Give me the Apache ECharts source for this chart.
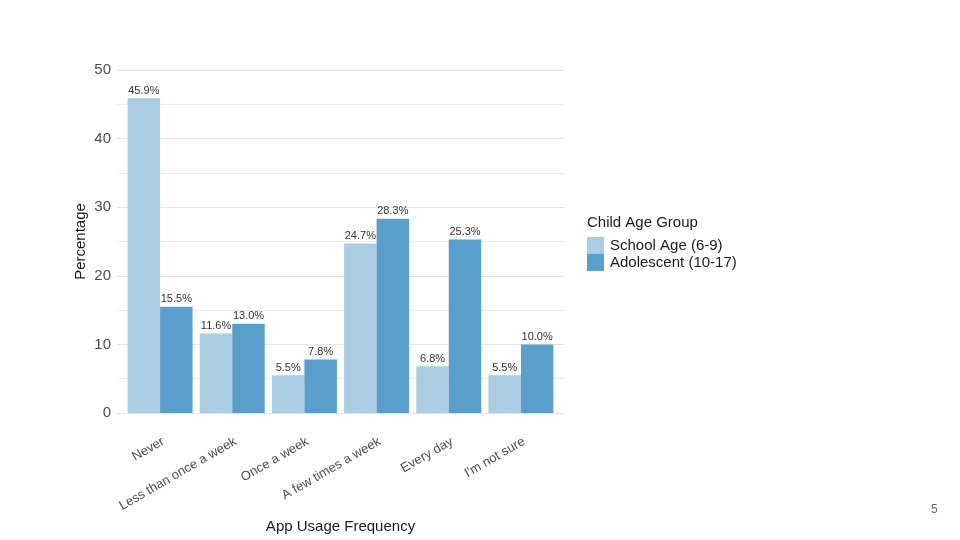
<!DOCTYPE html>
<html><head><meta charset="utf-8">
<script src="https://cdn.jsdelivr.net/npm/echarts@6/dist/echarts.min.js"></script>
<style>html,body{margin:0;padding:0;background:#fff}#c{width:960px;height:540px}</style>
</head><body><div id="c"></div>
<script>
const categories = ["Never","Less than once a week","Once a week","A few times a week","Every day","I'm not sure"];
const schoolAge = [45.9, 11.6, 5.5, 24.7, 6.8, 5.5];
const adolescent = [15.5, 13.0, 7.8, 28.3, 25.3, 10.0];
const seriesNames = ["School Age (6-9)", "Adolescent (10-17)"];
const yTicks = [0, 10, 20, 30, 40, 50];

const font = "'Liberation Sans', Arial, sans-serif";
const chart = echarts.init(document.getElementById('c'), null, {renderer: 'canvas'});
const lbl = {show: true, position: 'top', distance: 2, fontSize: 11, color: '#333', fontFamily: font,
  formatter: p => p.value.toFixed(1) + '%'};
const yMin = yTicks[0], yMax = yTicks[yTicks.length-1];
chart.setOption({
  animation: false,
  textStyle: {fontFamily: font},
  grid: [
    {left: 117, right: 396, top: 70, bottom: 127},
    {left: 124, right: 403, top: 70, bottom: 127}
  ],
  legend: {
    orient: 'vertical', left: 587, top: 237, padding: 0, itemWidth: 17, itemHeight: 17, itemGap: 0,
    icon: 'rect', textStyle: {fontSize: 15, color: '#1a1a1a', fontFamily: font, padding: [0,0,0,1]},
    data: seriesNames
  },
  xAxis: [
    {gridIndex: 0, type: 'value', show: false, min: 0, max: 1},
    {gridIndex: 1, type: 'category', data: categories,
    name: 'App Usage Frequency', nameLocation: 'middle', nameGap: 106,
    nameTextStyle: {fontSize: 15, color: '#1a1a1a', fontFamily: font},
    axisLine: {show: false}, axisTick: {show: false},
    axisLabel: {rotate: 30, fontSize: 13, color: '#4d4d4d', margin: 22, interval: 0, fontFamily: font, verticalAlign: 'top'},
    splitLine: {show: false}}
  ],
  yAxis: [
    {gridIndex: 0, type: 'value', min: yMin, max: yMax, interval: 10,
    name: 'Percentage', nameLocation: 'middle', nameGap: 29,
    nameTextStyle: {fontSize: 15, color: '#1a1a1a', fontFamily: font},
    axisLine: {show: false}, axisTick: {show: false},
    axisLabel: {fontSize: 15, color: '#4d4d4d', margin: 6, fontFamily: font},
    splitLine: {show: true, lineStyle: {color: '#e3e3e3', width: 1}},
    minorTick: {show: false, splitNumber: 2},
    minorSplitLine: {show: true, lineStyle: {color: '#ececec', width: 1}}},
    {gridIndex: 1, type: 'value', min: yMin, max: yMax, interval: 10, show: false, splitLine: {show: false}}
  ],
  series: [
    {name: seriesNames[0], type: 'bar', xAxisIndex: 1, yAxisIndex: 1, data: schoolAge, barGap: '0%', barCategoryGap: '10%',
     itemStyle: {color: '#abcde3'}, label: lbl},
    {name: seriesNames[1], type: 'bar', xAxisIndex: 1, yAxisIndex: 1, data: adolescent, barGap: '0%', barCategoryGap: '10%',
     itemStyle: {color: '#5a9ecb'}, label: lbl}
  ],
  graphic: [
    {type: 'text', left: 587, top: 215, style: {text: 'Child Age Group', fontSize: 15, fill: '#1a1a1a', fontFamily: font}},
    {type: 'text', left: 931, top: 504, style: {text: '5', fontSize: 12, fill: '#666', fontFamily: font}}
  ]
});
</script></body></html>
